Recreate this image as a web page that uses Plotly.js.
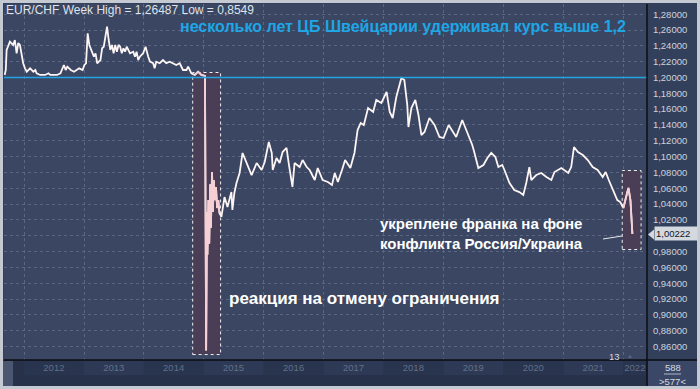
<!DOCTYPE html>
<html><head><meta charset="utf-8">
<script src="https://cdn.plot.ly/plotly-3.0.1.min.js"></script>
<style>html,body{margin:0;padding:0;background:#c4c9d2;}#chart{width:700px;height:389px;}</style>
</head><body><div id="chart"></div>
<script>
const dates = [
'2011-09-05','2011-09-12','2011-09-17','2011-10-07','2011-10-27','2011-11-06','2011-11-17','2011-11-27','2011-12-07','2011-12-17','2011-12-27',
'2012-01-07','2012-01-18','2012-02-07','2012-02-27','2012-03-10','2012-03-18','2012-04-08','2012-05-09','2012-05-29','2012-06-09','2012-07-20','2012-08-10','2012-08-31','2012-09-11','2012-09-21','2012-10-12','2012-11-01','2012-11-22','2012-12-02','2012-12-23',
'2013-01-03','2013-01-13','2013-01-23','2013-02-02','2013-02-12','2013-02-22','2013-03-02','2013-03-12','2013-03-22','2013-04-01','2013-04-11','2013-04-21','2013-05-01','2013-05-11','2013-05-21','2013-05-31','2013-06-10','2013-06-20','2013-06-30','2013-07-10','2013-07-20','2013-07-30','2013-08-09','2013-08-19','2013-08-29','2013-09-08','2013-09-18','2013-10-08','2013-10-28','2013-11-07','2013-11-17','2013-11-27','2013-12-07','2013-12-27',
'2014-01-11','2014-01-27','2014-02-07','2014-02-26','2014-03-07','2014-03-17','2014-04-07','2014-04-27','2014-05-17','2014-06-07','2014-06-27','2014-07-17','2014-08-07','2014-08-27','2014-09-17','2014-09-27','2014-10-17','2014-11-07','2014-11-27','2014-12-17',
'2015-01-08','2015-01-15','2015-01-20','2015-01-23','2015-01-29','2015-02-03','2015-02-09','2015-02-13','2015-02-20','2015-02-25','2015-03-03','2015-03-09','2015-03-16','2015-03-23','2015-03-30','2015-04-06','2015-04-18','2015-05-07','2015-05-25','2015-06-18','2015-06-24','2015-07-06','2015-07-19','2015-08-07','2015-08-25','2015-09-18','2015-10-19','2015-11-19','2015-12-19',
'2016-01-07','2016-02-01','2016-02-19','2016-02-25','2016-03-19','2016-04-07','2016-04-25','2016-05-19','2016-06-01','2016-06-24','2016-07-07','2016-08-07','2016-08-25','2016-09-19','2016-10-07','2016-11-07','2016-11-25','2016-12-25',
'2017-01-26','2017-02-20','2017-03-09','2017-03-28','2017-04-22','2017-05-11','2017-06-12','2017-07-07','2017-07-26','2017-08-14','2017-09-02','2017-09-28','2017-10-29','2017-11-17','2017-12-18',
'2018-01-19','2018-02-07','2018-02-25','2018-03-19','2018-04-19','2018-05-07','2018-05-25','2018-06-01','2018-06-19','2018-07-13','2018-08-01','2018-08-19','2018-09-07','2018-10-07','2018-11-07','2018-12-07',
'2019-01-01','2019-02-01','2019-03-01','2019-03-19','2019-04-25','2019-05-13','2019-06-01','2019-06-25','2019-07-07','2019-08-01','2019-09-01','2019-09-25','2019-10-19','2019-11-13','2019-12-01','2019-12-25',
'2020-01-07','2020-02-07','2020-03-07','2020-04-07','2020-05-01','2020-05-19','2020-06-07','2020-06-19','2020-07-19','2020-08-19','2020-09-19','2020-10-19','2020-11-07','2020-12-19',
'2021-01-30','2021-02-17','2021-03-06','2021-03-30','2021-04-29','2021-05-29','2021-06-28','2021-07-28','2021-08-28','2021-09-15','2021-10-04','2021-11-02','2021-11-25','2021-12-13',
'2022-01-01','2022-01-25','2022-02-01','2022-02-13','2022-02-25'
];
const rate = [
1.2032,1.2095,1.2348,1.2453,1.2411,1.2474,1.2306,1.2436,1.2411,1.2263,1.2180,
1.2116,1.2073,1.2116,1.2073,1.2095,1.2053,1.2032,1.2032,1.2053,1.2032,1.2032,1.2053,1.2158,1.2095,1.2137,1.2095,1.2073,1.2095,1.2116,1.2095,
1.2158,1.2180,1.2559,1.2411,1.2348,1.2306,1.2263,1.2306,1.2180,1.2200,1.2221,1.2369,1.2389,1.2516,1.2642,1.2474,1.2348,1.2411,1.2306,1.2411,1.2326,1.2411,1.2389,1.2306,1.2369,1.2326,1.2389,1.2306,1.2326,1.2263,1.2326,1.2221,1.2263,1.2306,
1.2389,1.2263,1.2200,1.2180,1.2116,1.2200,1.2180,1.2221,1.2180,1.2200,1.2180,1.2158,1.2180,1.2095,1.2095,1.2137,1.2053,1.2032,1.2073,1.2032,
1.2019,0.8549,1.0300,0.9760,1.0450,0.9900,1.0650,1.0100,1.0806,1.0300,1.0700,1.0450,1.0616,1.0350,1.0450,1.0287,1.0237,1.0489,1.0363,1.0552,1.0325,1.0540,1.0666,1.0793,1.1046,1.0919,1.0767,1.0919,1.0831,
1.0932,1.1185,1.1046,1.0831,1.0982,1.0919,1.1058,1.1109,1.0919,1.0616,1.0919,1.0868,1.0957,1.0868,1.0831,1.0704,1.0856,1.0704,
1.0679,1.0641,1.0793,1.0679,1.0831,1.0957,1.0856,1.1046,1.1336,1.1425,1.1400,1.1614,1.1564,1.1716,1.1678,
1.1817,1.1564,1.1488,1.1753,1.1994,1.1968,1.1652,1.1374,1.1614,1.1716,1.1526,1.1273,1.1311,1.1488,1.1400,1.1248,
1.1235,1.1400,1.1298,1.1248,1.1463,1.1374,1.1273,1.1147,1.1058,1.0856,1.0894,1.0982,1.1046,1.0995,1.0868,1.0894,
1.0831,1.0666,1.0578,1.0552,1.0515,1.0666,1.0868,1.0704,1.0767,1.0793,1.0742,1.0704,1.0805,1.0856,
1.0793,1.0868,1.1121,1.1058,1.1020,1.0957,1.0868,1.0831,1.0742,1.0805,1.0704,1.0552,1.0451,1.0426,
1.0350,1.0552,1.0603,1.0451,1.0022
];
const years = ['2012','2013','2014','2015','2016','2017','2018','2019','2020','2021','2022'];
const yearLabelDates = ['2012-07-01','2013-07-01','2014-07-01','2015-07-01','2016-07-01','2017-07-01','2018-07-01','2019-07-01','2020-07-01','2021-07-01','2022-03-12'];
const yTicks = [0.86,0.88,0.90,0.92,0.94,0.96,0.98,1.00,1.02,1.04,1.06,1.08,1.10,1.12,1.14,1.16,1.18,1.20,1.22,1.24,1.26,1.28];
const floorLevel = 1.20;
const lastValue = 1.00222;
const headerText = 'EUR/CHF Week High = 1,26487 Low = 0,8549';
const titleText = 'несколько лет ЦБ Швейцарии удерживал курс выше 1,2';
const note2015 = 'реакция на отмену ограничения';
const note2022 = 'укреплене франка на фоне<br>конфликта Россия/Украина';

// highlighted periods (layout)
const hl = [
  {x0:'2014-10-25', x1:'2015-04-13', y0:0.8498, y1:1.2063},
  {x0:'2021-12-25', x1:'2022-04-19', y0:0.9826, y1:1.0824}
];
const inHl = d => hl.some(b => d >= b.x0 && d <= b.x1);
const fmt = v => v.toFixed(5).replace('.', ',');
// the last-value marker covers the tick label it sits on
const yTickText = yTicks.map(v => Math.abs(v - lastValue) < 0.008 ? '' : fmt(v));

const W = 700, H = 389, L = 4, R = 53, T = 4, B = 29;
const pw = W - L - R, ph = H - T - B;
const px = v => (v - L) / pw;
const py = v => (H - B - v) / ph;
const FONT = 'Liberation Sans, Arial, sans-serif';

const traces = [
  {type:'scatter', mode:'lines', x:dates, y:rate, line:{color:'#fdf4f4', width:1.8}, hoverinfo:'skip'},
  {type:'scatter', mode:'lines', x:dates, y:rate.map((v,i)=> inHl(dates[i]) ? v : null), connectgaps:false, line:{color:'#f6cfd4', width:1.8}, hoverinfo:'skip'}
];

const shapes = [];
shapes.push({type:'rect', xref:'paper', yref:'paper', x0:px(3), x1:px(647), y0:py(360), y1:py(386), fillcolor:'#27324a', line:{width:0}, layer:'below'});
years.forEach(y=>{
  const yr = +y;
  shapes.push({type:'rect', xref:'x', yref:'paper', x0:yr+'-01-01', x1:(yr+1)+'-01-01', y0:py(361), y1:py(375),
    fillcolor: (yr % 2 === 1) ? '#2e3a55' : '#29344e', line:{width:0}, layer:'below'});
});
shapes.push({type:'rect', xref:'paper', yref:'paper', x0:px(3), x1:px(13), y0:py(361), y1:py(386), fillcolor:'#4b5670', line:{width:0}, layer:'below'});
shapes.push({type:'rect', xref:'paper', yref:'paper', x0:px(648), x1:px(697), y0:py(361), y1:py(386), fillcolor:'#3a4766', line:{width:0}, layer:'below'});
shapes.push({type:'line', xref:'paper', yref:'paper', x0:px(664), x1:px(681), y0:py(374), y1:py(374), line:{color:'#aeb6c4', width:1}});
hl.forEach(b=>shapes.push({type:'rect', xref:'x', yref:'y', x0:b.x0, x1:b.x1, y0:b.y0, y1:b.y1, fillcolor:'#4a3e56', line:{color:'#f0f0f0', width:1, dash:'dot'}, layer:'between'}));
shapes.push({type:'line', xref:'paper', yref:'y', x0:0, x1:1, y0:floorLevel, y1:floorLevel, line:{color:'#22a4e2', width:1.5}, layer:'above'});
shapes.push({type:'line', xref:'paper', yref:'paper', x0:px(4), x1:px(697), y0:py(360), y1:py(360), line:{color:'#0b0e13', width:1.5}});
shapes.push({type:'line', xref:'paper', yref:'paper', x0:px(647), x1:px(647), y0:py(4), y1:py(386), line:{color:'#0b0e13', width:1.5}});
shapes.push({type:'line', xref:'paper', yref:'paper', x0:px(603), x1:px(622), y0:py(239), y1:py(236), line:{color:'#e8e8ee', width:1}});
shapes.push({type:'path', xref:'paper', yref:'paper', path:`M ${px(648)} ${py(234.5)} L ${px(654)} ${py(229.5)} L ${px(654)} ${py(239.5)} Z`, fillcolor:'#d4d8df', line:{width:0}});
shapes.push({type:'rect', xref:'paper', yref:'paper', x0:px(0), x1:px(700), y0:py(389), y1:py(0), fillcolor:'rgba(0,0,0,0)', line:{color:'#c4c9d2', width:6}, layer:'above'});

const annotations = [
  {xref:'paper', yref:'paper', x:px(4), y:py(10), xanchor:'left', yanchor:'middle', text:headerText, showarrow:false, font:{size:12, color:'#dfe3ea', family:FONT}},
  {xref:'paper', yref:'paper', x:px(178), y:py(26), xanchor:'left', yanchor:'middle', text:'<b>'+titleText+'</b>', showarrow:false, font:{size:16, color:'#1ea6e6', family:FONT}},
  {xref:'paper', yref:'paper', x:px(227), y:py(298), xanchor:'left', yanchor:'middle', text:'<b>'+note2015+'</b>', showarrow:false, font:{size:17, color:'#ffffff', family:FONT}},
  {xref:'paper', yref:'paper', x:px(378), y:py(233), xanchor:'left', yanchor:'middle', align:'left', text:'<b>'+note2022+'</b>', showarrow:false, font:{size:15, color:'#ffffff', family:FONT}},
  {xref:'paper', yref:'y', x:px(654), y:lastValue, xanchor:'left', yanchor:'middle', text:fmt(lastValue), showarrow:false, bgcolor:'#d4d8df', borderpad:1, width:40, align:'left', font:{size:9.5, color:'#111622', family:FONT}},
  {xref:'paper', yref:'paper', x:px(622), y:py(356), xanchor:'right', yanchor:'middle', text:'13', showarrow:false, font:{size:9.5, color:'#d6dbe4', family:FONT}},
  {xref:'paper', yref:'paper', x:px(630), y:py(356), xanchor:'center', yanchor:'middle', text:'▲', showarrow:false, font:{size:6, color:'#5b6680'}},
  {xref:'paper', yref:'paper', x:px(672.5), y:py(367), xanchor:'center', yanchor:'middle', text:'588', showarrow:false, font:{size:9.5, color:'#d6dbe4', family:FONT}},
  {xref:'paper', yref:'paper', x:px(672.5), y:py(381), xanchor:'center', yanchor:'middle', text:'&gt;577&lt;', showarrow:false, font:{size:9.5, color:'#d6dbe4', family:FONT}}
];

const layout = {
  width:W, height:H,
  margin:{l:L, r:R, t:T, b:B, pad:0},
  paper_bgcolor:'#33405c',
  plot_bgcolor:'#3a4662',
  separators:', ',
  showlegend:false,
  font:{family:FONT, color:'#cdd3dd', size:9},
  xaxis:{type:'date', range:['2011-09-01','2022-05-25'], tickmode:'array', tickvals:yearLabelDates, ticktext:years,
    ticks:'', showgrid:false, zeroline:false, showline:false, tickfont:{size:9.5, color:'#617089'},
    minor:{dtick:'M12', tick0:'2012-01-01', showgrid:true, gridcolor:'#5a6682', griddash:'3px,3px', gridwidth:1, ticks:''}, fixedrange:true},
  yaxis:{side:'right', range:[0.8429,1.2929], tickmode:'array', tickvals:yTicks, ticktext:yTickText, showgrid:true, gridcolor:'#5a6682', griddash:'3px,3px', gridwidth:1,
    zeroline:false, showline:false, ticks:'outside', ticklen:3, tickcolor:'rgba(0,0,0,0)', tickfont:{size:9.5, color:'#cdd3dd'}, fixedrange:true},
  shapes, annotations
};
Plotly.newPlot('chart', traces, layout, {staticPlot:true, displayModeBar:false});
</script>
</body></html>
